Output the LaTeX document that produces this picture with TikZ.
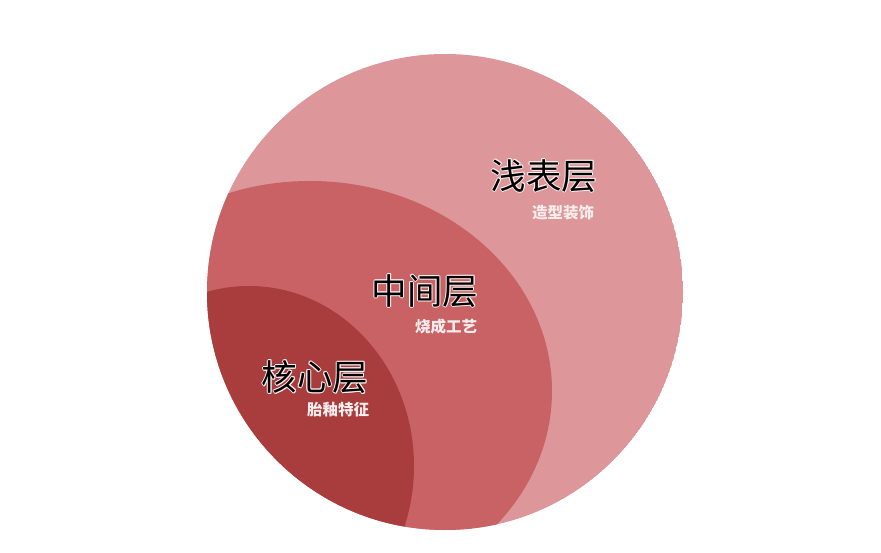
\documentclass[tikz,border=0pt]{standalone}
\usepackage{fontspec}
\newfontfamily\cjk{Noto Sans CJK SC}
\definecolor{outerc}{HTML}{DD9699}
\definecolor{midc}{HTML}{C96264}
\definecolor{innerc}{HTML}{A93C3D}
\definecolor{haloc}{HTML}{FBEFEF}
\definecolor{subc}{HTML}{F8EDED}
\newcommand\halo[1]{%
  \makebox[0pt][l]{\color{haloc}\hspace*{-.9pt}#1}%
  \makebox[0pt][l]{\color{haloc}\hspace*{.9pt}#1}%
  \makebox[0pt][l]{\color{haloc}\raisebox{.9pt}{#1}}%
  \makebox[0pt][l]{\color{haloc}\raisebox{-.9pt}{#1}}%
  \makebox[0pt][l]{\color{haloc}\hspace*{-.65pt}\raisebox{.65pt}{#1}}%
  \makebox[0pt][l]{\color{haloc}\hspace*{.65pt}\raisebox{.65pt}{#1}}%
  \makebox[0pt][l]{\color{haloc}\hspace*{-.65pt}\raisebox{-.65pt}{#1}}%
  \makebox[0pt][l]{\color{haloc}\hspace*{.65pt}\raisebox{-.65pt}{#1}}%
  {\color{black}#1}}
\tikzset{
  title/.style={font=\cjk\fontsize{35.5}{35.5}\selectfont, inner sep=0pt, anchor=center},
  sub/.style={font=\cjk\bfseries\fontsize{15.5}{15.5}\selectfont, text=subc, inner sep=0pt, anchor=center}
}
\begin{document}
\begin{tikzpicture}[x=1pt,y=-1pt]
\fill[white] (0,0) rectangle (881,553);
\useasboundingbox (0,0) rectangle (881,553);
\begin{scope}
  \clip (445,292) circle (238);
  \fill[outerc] (445,292) circle (238);
  \fill[midc] (310,391) ellipse [x radius=242, y radius=210];
  \fill[innerc] (249,466) ellipse [x radius=165, y radius=180];
\end{scope}
\node[title] (t1) at (544,176) {\halo{浅表层}};
\node[sub] (s1) at (563,213) {造型装饰};
\node[title] (t2) at (425,291) {\halo{中间层}};
\node[sub] (s2) at (446,327) {烧成工艺};
\node[title] (t3) at (315,377) {\halo{核心层}};
\node[sub] (s3) at (338,410) {胎釉特征};
\end{tikzpicture}
\end{document}
